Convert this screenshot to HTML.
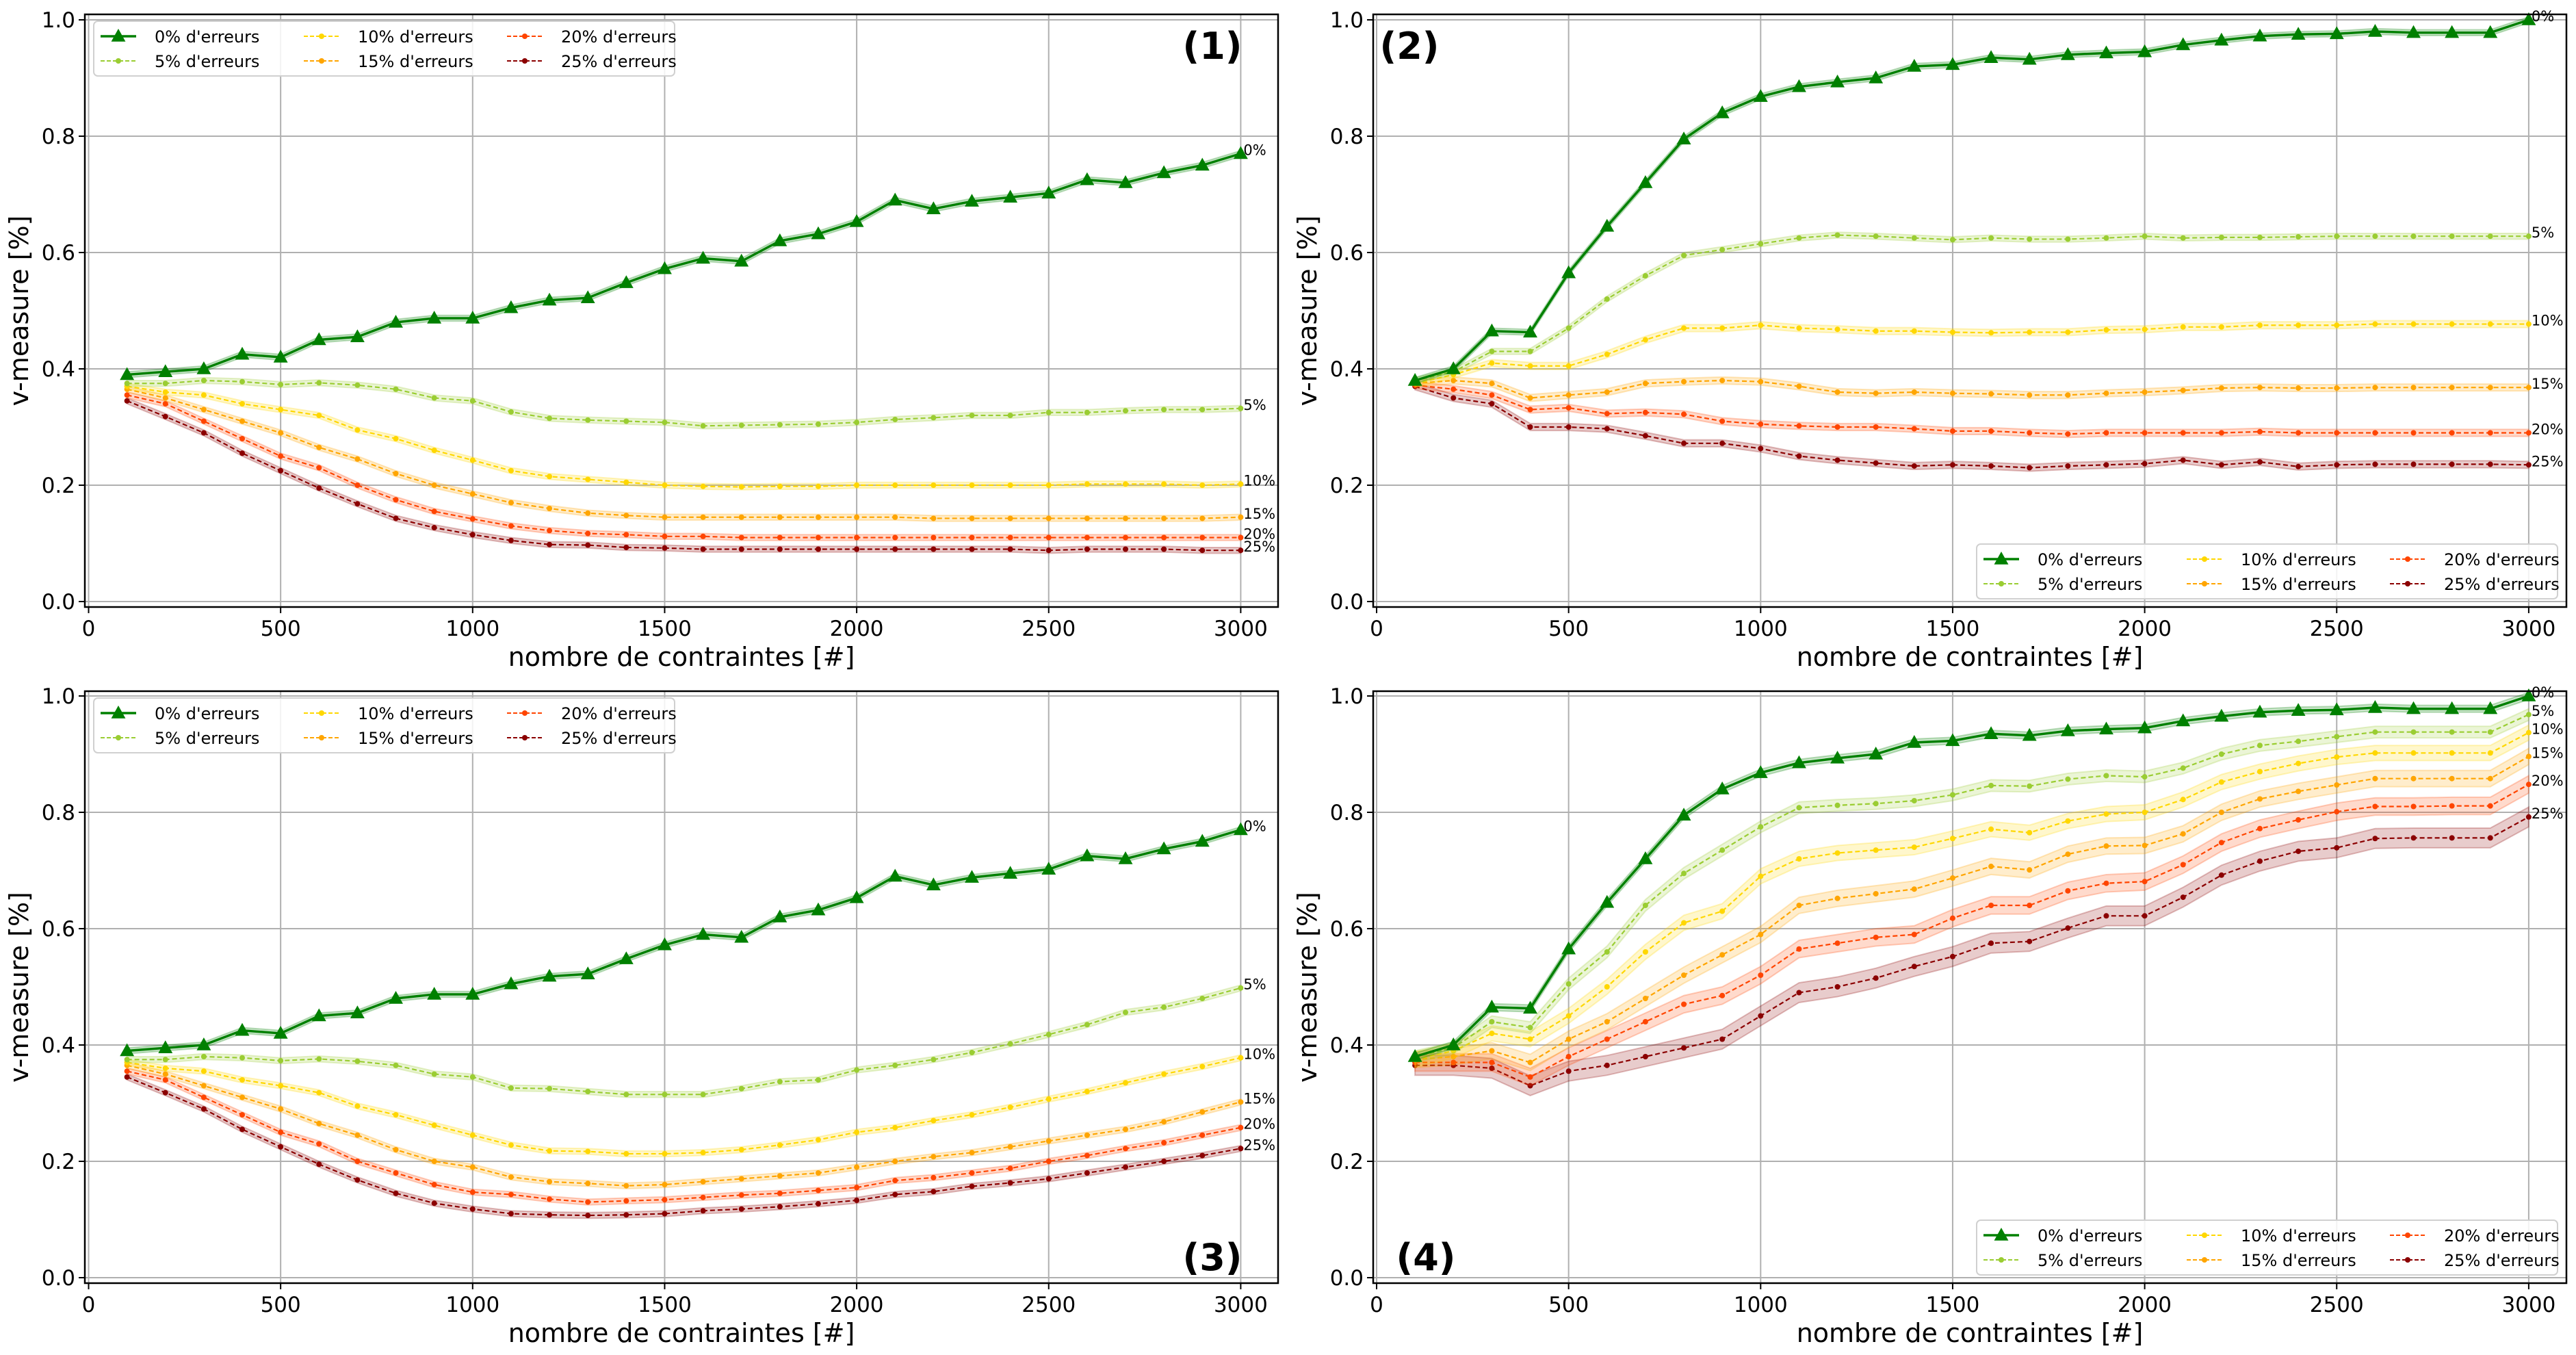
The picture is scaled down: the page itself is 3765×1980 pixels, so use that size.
<!DOCTYPE html>
<html><head><meta charset="utf-8"><style>
html,body{margin:0;padding:0;background:#fff;}
svg{display:block;font-family:"DejaVu Sans","Liberation Sans",sans-serif;}
</style></head><body>
<svg id="fig" width="3765" height="1980" viewBox="0 0 3765 1980" xmlns="http://www.w3.org/2000/svg"></svg>
<script>
const xs=[100,200,300,400,500,600,700,800,900,1000,1100,1200,1300,1400,1500,1600,1700,1800,1900,2000,2100,2200,2300,2400,2500,2600,2700,2800,2900,3000];
const xTicks=[0,500,1000,1500,2000,2500,3000];
const yTicks=[0.0,0.2,0.4,0.6,0.8,1.0];
const seriesLabels=["0% d'erreurs","5% d'erreurs","10% d'erreurs","15% d'erreurs","20% d'erreurs","25% d'erreurs"];
const endLabels=["0%","5%","10%","15%","20%","25%"];
const panelTitles=["(1)","(2)","(3)","(4)"];

const p1_e0=[0.39,0.395,0.40,0.425,0.42,0.45,0.455,0.48,0.487,0.487,0.505,0.518,0.522,0.548,0.572,0.59,0.585,0.62,0.632,0.653,0.69,0.675,0.688,0.695,0.702,0.725,0.72,0.737,0.75,0.77];
const p1_e5=[0.375,0.375,0.38,0.378,0.373,0.376,0.372,0.365,0.35,0.345,0.326,0.315,0.312,0.31,0.308,0.302,0.303,0.304,0.305,0.308,0.313,0.316,0.32,0.32,0.325,0.325,0.328,0.33,0.33,0.332];
const p1_e10=[0.37,0.36,0.355,0.34,0.33,0.32,0.295,0.28,0.26,0.243,0.225,0.215,0.21,0.205,0.2,0.198,0.197,0.198,0.198,0.2,0.2,0.2,0.2,0.2,0.2,0.202,0.202,0.202,0.2,0.202];
const p1_e15=[0.365,0.35,0.33,0.31,0.29,0.265,0.245,0.22,0.2,0.185,0.17,0.16,0.152,0.148,0.145,0.145,0.145,0.145,0.145,0.145,0.145,0.143,0.143,0.143,0.143,0.143,0.143,0.143,0.143,0.145];
const p1_e20=[0.355,0.34,0.31,0.28,0.25,0.23,0.2,0.175,0.155,0.142,0.13,0.122,0.117,0.115,0.112,0.112,0.11,0.11,0.11,0.11,0.11,0.11,0.11,0.11,0.11,0.11,0.11,0.11,0.11,0.11];
const p1_e25=[0.345,0.318,0.29,0.255,0.225,0.195,0.168,0.143,0.127,0.115,0.105,0.098,0.097,0.093,0.092,0.09,0.09,0.09,0.09,0.09,0.09,0.09,0.09,0.09,0.088,0.09,0.09,0.09,0.088,0.088];

const p2_e0=[0.38,0.40,0.465,0.463,0.565,0.645,0.72,0.795,0.84,0.868,0.885,0.893,0.90,0.92,0.923,0.935,0.932,0.94,0.943,0.945,0.957,0.965,0.972,0.975,0.976,0.98,0.978,0.978,0.978,1.0];
const p2_e5=[0.38,0.395,0.43,0.43,0.47,0.52,0.56,0.595,0.605,0.615,0.625,0.63,0.628,0.625,0.622,0.625,0.623,0.623,0.625,0.628,0.625,0.626,0.626,0.627,0.628,0.628,0.628,0.628,0.628,0.628];
const p2_e10=[0.375,0.39,0.41,0.405,0.405,0.425,0.45,0.47,0.47,0.475,0.47,0.468,0.465,0.465,0.463,0.462,0.463,0.463,0.467,0.468,0.472,0.472,0.475,0.475,0.475,0.477,0.477,0.477,0.477,0.477];
const p2_e15=[0.375,0.38,0.375,0.35,0.355,0.36,0.375,0.378,0.38,0.378,0.37,0.36,0.358,0.36,0.358,0.357,0.355,0.355,0.358,0.36,0.363,0.367,0.368,0.367,0.367,0.368,0.368,0.368,0.368,0.368];
const p2_e20=[0.372,0.365,0.355,0.33,0.333,0.323,0.325,0.322,0.31,0.305,0.302,0.3,0.3,0.297,0.293,0.293,0.29,0.288,0.29,0.29,0.29,0.29,0.292,0.29,0.29,0.29,0.29,0.29,0.29,0.29];
const p2_e25=[0.37,0.35,0.34,0.3,0.3,0.297,0.285,0.272,0.272,0.263,0.25,0.243,0.238,0.233,0.235,0.233,0.23,0.233,0.235,0.237,0.243,0.235,0.24,0.232,0.235,0.236,0.236,0.236,0.236,0.235];

const p3_e0=[0.39,0.395,0.40,0.425,0.42,0.45,0.455,0.48,0.487,0.487,0.505,0.518,0.522,0.548,0.572,0.59,0.585,0.62,0.632,0.653,0.69,0.675,0.688,0.695,0.702,0.725,0.72,0.737,0.75,0.77];
const p3_e5=[0.375,0.375,0.38,0.378,0.373,0.376,0.372,0.365,0.35,0.345,0.326,0.325,0.32,0.315,0.315,0.315,0.325,0.337,0.34,0.357,0.365,0.375,0.387,0.402,0.418,0.435,0.456,0.465,0.48,0.498];
const p3_e10=[0.37,0.36,0.355,0.34,0.33,0.318,0.295,0.28,0.262,0.245,0.228,0.218,0.217,0.213,0.213,0.215,0.22,0.228,0.237,0.25,0.258,0.27,0.28,0.293,0.307,0.32,0.335,0.35,0.363,0.378];
const p3_e15=[0.365,0.35,0.33,0.31,0.29,0.265,0.245,0.22,0.2,0.19,0.173,0.165,0.162,0.158,0.16,0.165,0.17,0.175,0.18,0.19,0.2,0.208,0.215,0.225,0.235,0.245,0.255,0.268,0.285,0.302];
const p3_e20=[0.355,0.34,0.31,0.28,0.25,0.23,0.2,0.18,0.16,0.147,0.143,0.135,0.13,0.132,0.134,0.138,0.142,0.145,0.15,0.155,0.167,0.172,0.18,0.188,0.2,0.21,0.222,0.232,0.245,0.258];
const p3_e25=[0.345,0.318,0.29,0.255,0.225,0.195,0.168,0.145,0.128,0.118,0.11,0.108,0.107,0.108,0.11,0.115,0.118,0.122,0.127,0.133,0.143,0.148,0.157,0.163,0.17,0.18,0.19,0.2,0.21,0.222];

const p4_e0=[0.38,0.40,0.465,0.463,0.565,0.645,0.72,0.795,0.84,0.868,0.885,0.893,0.90,0.92,0.923,0.935,0.932,0.94,0.943,0.945,0.957,0.965,0.972,0.975,0.976,0.98,0.978,0.978,0.978,1.0];
const p4_e5=[0.38,0.395,0.44,0.43,0.505,0.56,0.64,0.695,0.735,0.775,0.808,0.812,0.815,0.82,0.83,0.846,0.845,0.857,0.863,0.861,0.876,0.9,0.915,0.922,0.93,0.938,0.938,0.938,0.938,0.968];
const p4_e10=[0.375,0.39,0.42,0.41,0.45,0.5,0.56,0.61,0.63,0.69,0.72,0.73,0.735,0.74,0.755,0.771,0.765,0.785,0.797,0.8,0.822,0.852,0.87,0.884,0.895,0.902,0.902,0.902,0.902,0.937];
const p4_e15=[0.375,0.38,0.39,0.37,0.41,0.44,0.48,0.52,0.555,0.59,0.64,0.652,0.66,0.668,0.687,0.707,0.701,0.728,0.742,0.743,0.763,0.8,0.823,0.836,0.847,0.858,0.858,0.858,0.858,0.896];
const p4_e20=[0.37,0.37,0.37,0.345,0.38,0.41,0.44,0.47,0.485,0.52,0.565,0.575,0.585,0.59,0.618,0.64,0.64,0.665,0.678,0.681,0.71,0.748,0.772,0.787,0.801,0.81,0.81,0.811,0.811,0.848];
const p4_e25=[0.365,0.365,0.36,0.33,0.355,0.365,0.38,0.395,0.41,0.45,0.49,0.5,0.515,0.535,0.552,0.575,0.578,0.601,0.622,0.622,0.654,0.692,0.716,0.733,0.739,0.755,0.756,0.756,0.756,0.792];

const bandHalf=[[0.005,0.005,0.005,0.005,0.005,0.005],[0.005,0.005,0.006,0.006,0.006,0.006],[0.005,0.005,0.005,0.005,0.005,0.005],[0.006,0.01,0.013,0.014,0.015,0.017]];

const colors=["#008000","#9acd32","#ffd700","#ffa500","#ff4500","#8b0000"];
const panels=[
 {series:[p1_e0,p1_e5,p1_e10,p1_e15,p1_e20,p1_e25],L:124,R:1868,T:21,B:887,x0:129.5,y0:879,legend:"tl",title:[1772,67]},
 {series:[p2_e0,p2_e5,p2_e10,p2_e15,p2_e20,p2_e25],L:2007,R:3751,T:21,B:887,x0:2012,y0:879,legend:"br",title:[2060,67]},
 {series:[p3_e0,p3_e5,p3_e10,p3_e15,p3_e20,p3_e25],L:124,R:1868,T:1010,B:1875,x0:129.5,y0:1867,legend:"tl",title:[1772,1837]},
 {series:[p4_e0,p4_e5,p4_e10,p4_e15,p4_e20,p4_e25],L:2007,R:3751,T:1010,B:1875,x0:2012,y0:1867,legend:"br",title:[2084,1837]}
];
const NS="http://www.w3.org/2000/svg";
const svg=document.getElementById('fig');
function mk(tag,attrs,parent){const e=document.createElementNS(NS,tag);for(const k in attrs)e.setAttribute(k,attrs[k]);(parent||svg).appendChild(e);return e;}
function tri(x,y,s){return `${x},${y-s} ${x-s*0.95},${y+s*0.7} ${x+s*0.95},${y+s*0.7}`;}

panels.forEach((p,pi)=>{
 const g=mk('g',{});
 
 
 const xPx=v=>p.x0+v*(561.3/1000);
 const yPx=v=>p.y0-v*850;
 // grid
 xTicks.forEach(t=>{const l=mk('line',{x1:xPx(t),x2:xPx(t),y1:p.T,y2:p.B,stroke:'#b0b0b0','stroke-width':2},g);
  });
 yTicks.forEach(t=>{const l=mk('line',{x1:p.L,x2:p.R,y1:yPx(t),y2:yPx(t),stroke:'#b0b0b0','stroke-width':2},g);
  });
 // series
 for(let s=5;s>=0;s--){
  const d=p.series[s];const h=bandHalf[pi][s];
  let pts=xs.map((x,i)=>xPx(x)+','+yPx(d[i]+h));
  let pts2=xs.map((x,i)=>xPx(x)+','+yPx(d[i]-h)).reverse();
  const band=mk('polygon',{points:pts.concat(pts2).join(' '),fill:colors[s],'fill-opacity':0.2,stroke:colors[s],'stroke-opacity':0.25,'stroke-width':2},g);
  
  const line=mk('polyline',{points:xs.map((x,i)=>xPx(x)+','+yPx(d[i])).join(' '),fill:'none',stroke:colors[s],'stroke-width':s==0?3.5:2.2,'stroke-dasharray':s==0?'none':'7,4'},g);
  
  xs.forEach((x,i)=>{
   let m;
   if(s==0){m=mk('polygon',{points:tri(xPx(x),yPx(d[i]),11),fill:colors[0]},g);}
   else{m=mk('circle',{cx:xPx(x),cy:yPx(d[i]),r:4,fill:colors[s]},g);}
   
  });
  const t=mk('text',{x:xPx(3000)+4,y:yPx(d[29])+2,'font-size':21,fill:'#000'},g);t.textContent=endLabels[s];
  
 }
 // spines
 const fr=mk('rect',{x:p.L,y:p.T,width:p.R-p.L,height:p.B-p.T,fill:'none',stroke:'#000','stroke-width':2.5},g);
 
 // ticks
 xTicks.forEach(t=>{mk('line',{x1:xPx(t),x2:xPx(t),y1:p.B,y2:p.B+9,stroke:'#000','stroke-width':2},g);
  const tx=mk('text',{x:xPx(t),y:p.B+42,'font-size':31,'text-anchor':'middle'},g);tx.textContent=t;
  });
 yTicks.forEach(t=>{mk('line',{x1:p.L,x2:p.L-9,y1:yPx(t),y2:yPx(t),stroke:'#000','stroke-width':2},g);
  const tx=mk('text',{x:p.L-14,y:yPx(t)+11,'font-size':31,'text-anchor':'end'},g);tx.textContent=t.toFixed(1);
  });
 // axis labels
 const xl=mk('text',{x:(p.L+p.R)/2,y:p.B+86,'font-size':38,'text-anchor':'middle'},g);xl.textContent='nombre de contraintes [#]';
 
 const yc=(p.T+p.B)/2, yx=p.L-83;
 const yl=mk('text',{x:yx,y:yc,'font-size':38,'text-anchor':'middle',transform:`rotate(-90 ${yx} ${yc})`},g);yl.textContent='v-measure [%]';
 
 // title
 const tt=mk('text',{x:p.title[0],y:p.title[1]+19,'font-size':54,'font-weight':'bold','text-anchor':'middle'},g);tt.textContent=panelTitles[pi];
 
 // legend
 const lw=849,lh=80;
 const lx=p.legend=='tl'?p.L+13:p.R-13-lw, ly=p.legend=='tl'?p.T+10:p.B-12-lh;
 const lg=mk('g',{},g);
 mk('rect',{x:lx,y:ly,width:lw,height:lh,rx:6,fill:'#fff','fill-opacity':0.85,stroke:'#d0d0d0','stroke-width':2},lg);
 for(let s=0;s<6;s++){
  const col=Math.floor(s/2),row=s%2;
  const hx=lx+10+col*297, hy=ly+22+row*36;
  const e=mk('g',{},lg);
  mk('line',{x1:hx,x2:hx+52,y1:hy,y2:hy,stroke:colors[s],'stroke-width':s==0?3.5:2,'stroke-dasharray':s==0?'none':'6,3'},e);
  if(s==0)mk('polygon',{points:tri(hx+26,hy,11),fill:colors[0]},e);else mk('circle',{cx:hx+26,cy:hy,r:4,fill:colors[s]},e);
  const t=mk('text',{x:hx+79,y:hy+9,'font-size':24},e);t.textContent=seriesLabels[s];
 }
});
</script>
</body></html>
